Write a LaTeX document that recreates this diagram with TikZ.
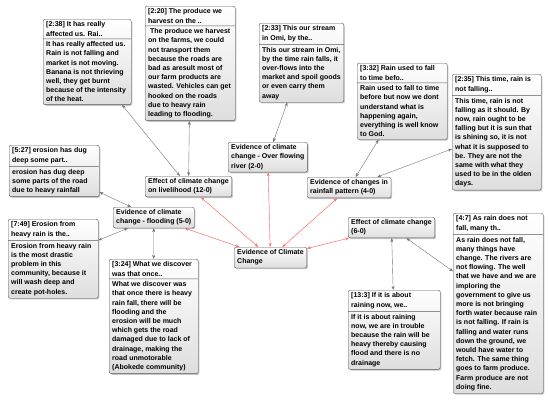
\documentclass[tikz,border=0pt]{standalone}
\usepackage{fontspec}
\setmainfont{Liberation Sans}
\usetikzlibrary{shapes.multipart,shadows,arrows.meta}

\begin{document}
\begin{tikzpicture}[x=1pt, y=-1pt,
    every node/.style={font=\fontsize{7}{9.2}\selectfont\bfseries, anchor=north west, align=left,
        rounded corners=2pt, draw=black!65, top color=white, bottom color=black!13,
        drop shadow={shadow xshift=1.2pt, shadow yshift=-1.2pt, opacity=0.45},
        inner xsep=3pt, inner ysep=2.5pt},
    quote/.style={rectangle split, rectangle split parts=2, rectangle split part align={left},
        minimum width=#1},
    link/.style={{Stealth[length=4pt,width=3pt]}-{Stealth[length=4pt,width=3pt]}, draw=black!55, thin},
    redlink/.style={{Stealth[length=4pt,width=3pt]}-{Stealth[length=4pt,width=3pt]}, draw=red!55, fill=red!80, thin}]
    \useasboundingbox (0,0) rectangle (550,410);

    % codes
    \node (ECC) at (234,247) {Evidence of Climate\\Change};
    \node (river) at (228,142) {Evidence of climate\\change - Over flowing\\river (2-0)};
    \node (rainfall) at (307,177) {Evidence of changes in\\rainfall pattern (4-0)};
    \node (effect) at (348,217) {Effect of climate change\\(6-0)};
    \node (livelihood) at (145,176) {Effect of climate change\\on livelihood (12-0)};
    \node (flooding) at (113,207) {Evidence of climate\\change - flooding (5-0)};

    % quotations
    \node[quote=88pt] (Q238) at (43,19) {[2:38] It has really\\affected us. Rai..
        \nodepart{two}It has really affected us.\\Rain is not falling and\\market is not moving.\\Banana is not thrieving\\well, they get burnt\\because of the intensity\\of the heat.};
    \node[quote=90pt] (Q220) at (145,6) {[2:20] The produce we\\harvest on the ..
        \nodepart{two}\ The produce we harvest\\on the farms, we could\\not transport them\\because the roads are\\bad as aresult most of\\our farm products are\\wasted. Vehicles can get\\hooked on the roads\\due to heavy rain\\leading to flooding.};
    \node[quote=80pt] (Q233) at (259,23) {[2:33] This our stream\\in Omi, by the..
        \nodepart{two}This our stream in Omi,\\by the time rain falls, it\\over-flows into the\\market and spoil goods\\or even carry them\\away};
    \node[quote=90pt] (Q332) at (357,63) {[3:32] Rain used to fall\\to time befo..
        \nodepart{two}Rain used to fall to time\\before but now we dont\\understand what is\\happening again,\\everything is well know\\to God.};
    \node[quote=89pt] (Q235) at (452,74) {[2:35] This time, rain is\\not falling..
        \nodepart{two}This time, rain is not\\falling as it should. By\\now, rain ought to be\\falling but it is sun that\\is shining so, it is not\\what it is supposed to\\be. They are not the\\same with what they\\used to be in the olden\\days.};
    \node[quote=90pt] (Q527) at (9,145) {[5:27] erosion has dug\\deep some part..
        \nodepart{two}erosion has dug deep\\some parts of the road\\due to heavy rainfall};
    \node[quote=90pt] (Q749) at (8,219) {[7:49] Erosion from\\heavy rain is the..
        \nodepart{two}Erosion from heavy rain\\is the most drastic\\problem in this\\community, because it\\will wash deep and\\create pot-holes.};
    \node[quote=89pt] (Q324) at (109,259) {[3:24] What we discover\\was that once..
        \nodepart{two}What we discover was\\that once there is heavy\\rain fall, there will be\\flooding and the\\erosion will be much\\which gets the road\\damaged due to lack of\\drainage, making the\\road unmotorable\\(Abokede community)};
    \node[quote=92pt] (Q133) at (348,290) {[13:3] If it is about\\raining now, we..
        \nodepart{two}If it is about raining\\now, we are in trouble\\because the rain will be\\heavy thereby causing\\flood and there is no\\drainage};
    \node[quote=90pt] (Q47) at (453,213) {[4:7] As rain does not\\fall, many th..
        \nodepart{two}As rain does not fall,\\many things have\\change. The rivers are\\not flowing. The well\\that we have and we are\\imploring the\\government to give us\\more is not bringing\\forth water because rain\\is not falling. If rain is\\falling and water runs\\down the ground, we\\would have water to\\fetch. The same thing\\goes to farm produce.\\Farm produce are not\\doing fine.};

    % links
    \foreach \a/\b in {livelihood/Q238, livelihood/Q220, river/Q233, rainfall/Q332, rainfall/Q235,
                       flooding/Q527, flooding/Q749, flooding/Q324, effect/Q133, effect/Q47} {
        \draw[link] (\a) -- (\b);
    }
    \foreach \a in {livelihood, river, rainfall, effect, flooding} {
        \draw[redlink] (ECC) -- (\a);
    }
\end{tikzpicture}
\end{document}
